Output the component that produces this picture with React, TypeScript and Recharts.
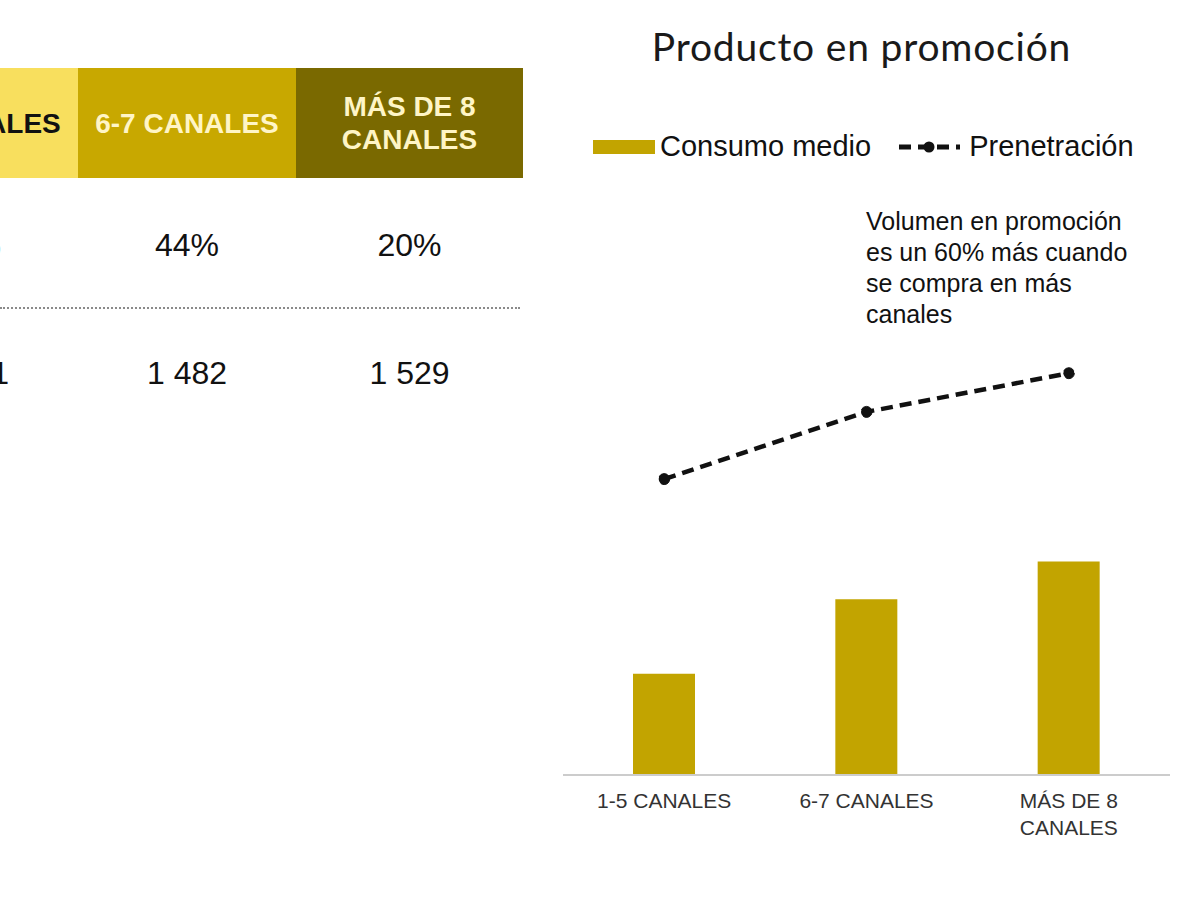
import React from 'react';
import { ComposedChart, Bar, Line, XAxis, YAxis, Legend } from 'recharts';

const categories = ['1-5 CANALES', '6-7 CANALES', 'MÁS DE 8 CANALES'];
const consumoMedio = [9.1, 15.8, 19.2];
const penetracion = [66.5, 81.6, 90.3];

const tableHeaders = ['1-5 CANALES', '6-7 CANALES', 'MÁS DE 8 CANALES'];
const shareRow = ['36%', '44%', '20%'];
const volumeRow = ['1 291', '1 482', '1 529'];

const annotationLines = [
  'Volumen en promoción',
  'es un 60% más cuando',
  'se compra en más',
  'canales',
];

const BAR_COLOR = '#c2a400';
const headerColors = ['#f8df5e', '#c8a800', '#7a6900'];
const headerText = ['#111111', '#fff5c6', '#fff5c6'];

const data = categories.map((name, i) => ({
  name,
  consumo: consumoMedio[i],
  penetracion: penetracion[i],
}));

// table columns (first one is cut off by the left edge of the picture)
const cols = [
  { left: -140, width: 218 },
  { left: 78, width: 218 },
  { left: 296, width: 227 },
];

const CategoryTick = (props: any) => {
  const { x, y, payload } = props;
  const words = String(payload.value);
  const lines = words.startsWith('MÁS') ? ['MÁS DE 8', 'CANALES'] : [words];
  return (
    <text x={x} y={y} textAnchor="middle" fill="#333" fontSize={21} fontFamily="Arial, 'Liberation Sans', sans-serif">
      {lines.map((l, i) => (
        <tspan key={i} x={x} dy={i === 0 ? 25 : 27}>
          {l}
        </tspan>
      ))}
    </text>
  );
};

const LegendContent = () => (
  <div
    style={{
      display: 'flex',
      alignItems: 'center',
      fontFamily: "Arial, 'Liberation Sans', sans-serif",
      fontSize: 29,
      color: '#111',
      whiteSpace: 'nowrap',
    }}
  >
    <svg width={64} height={16} style={{ marginRight: 3 }}>
      <rect x={0} y={1} width={62} height={14} fill={BAR_COLOR} />
    </svg>
    <span>Consumo medio</span>
    <svg width={64} height={16} style={{ marginLeft: 27, marginRight: 7 }}>
      <line x1={1} y1={8} x2={62} y2={8} stroke="#111" strokeWidth={5} strokeDasharray="12 7" />
      <circle cx={31} cy={8} r={5.5} fill="#111" />
    </svg>
    <span>Prenetración</span>
  </div>
);

export default function App() {
  return (
    <div
      style={{
        position: 'absolute',
        left: 0,
        top: 0,
        width: 1200,
        height: 900,
        overflow: 'hidden',
        background: '#fff',
        fontFamily: "Arial, 'Liberation Sans', sans-serif",
      }}
    >
      {/* table */}
      {cols.map((c, i) => (
        <div
          key={'h' + i}
          style={{
            position: 'absolute',
            left: c.left,
            top: 68,
            width: c.width,
            height: 110,
            background: headerColors[i],
            color: headerText[i],
            fontWeight: 'bold',
            fontSize: 28,
            lineHeight: '33px',
            display: 'flex',
            alignItems: 'center',
            justifyContent: 'center',
            textAlign: 'center',
          }}
        >
          {i === 2 ? (
            <span>
              MÁS DE 8
              <br />
              CANALES
            </span>
          ) : (
            tableHeaders[i]
          )}
        </div>
      ))}
      {cols.map((c, i) => (
        <div
          key={'s' + i}
          style={{ position: 'absolute', left: c.left, top: 227, width: c.width, textAlign: 'center', fontSize: 32, color: '#111' }}
        >
          {shareRow[i]}
        </div>
      ))}
      <div style={{ position: 'absolute', left: 0, top: 307, width: 520, borderTop: '2px dotted #8a8a8a' }} />
      {cols.map((c, i) => (
        <div
          key={'v' + i}
          style={{ position: 'absolute', left: c.left, top: 355, width: c.width, textAlign: 'center', fontSize: 32, color: '#111' }}
        >
          {volumeRow[i]}
        </div>
      ))}

      {/* chart title */}
      <div
        style={{
          position: 'absolute',
          left: 558,
          top: 25,
          width: 607,
          textAlign: 'center',
          fontFamily: 'Lato, sans-serif',
          fontWeight: 400,
          fontSize: 39,
          letterSpacing: 0.8,
          lineHeight: '42px',
          color: '#1a1a1a',
        }}
      >
        Producto en promoción
      </div>

      {/* annotation */}
      <div style={{ position: 'absolute', left: 866, top: 206, fontSize: 25, lineHeight: '31px', color: '#111' }}>
        {annotationLines.map((l) => (
          <div key={l}>{l}</div>
        ))}
      </div>

      <div style={{ position: 'absolute', left: 563, top: 120 }}>
        <ComposedChart width={607} height={715} data={data} margin={{ top: 210, right: 0, bottom: 0, left: 0 }}>
          <XAxis
            dataKey="name"
            height={60}
            tickLine={false}
            axisLine={{ stroke: '#cccccc', strokeWidth: 2 }}
            tick={<CategoryTick />}
            interval={0}
          />
          <YAxis yAxisId="left" hide domain={[0, 40]} />
          <YAxis yAxisId="right" hide domain={[0, 100]} orientation="right" />
          <Legend
            verticalAlign="middle"
            align="center"
            layout="horizontal"
            content={<LegendContent />}
            wrapperStyle={{ top: 10, left: 30, width: 'auto' }}
          />
          <Bar yAxisId="left" dataKey="consumo" fill={BAR_COLOR} barSize={62} isAnimationActive={false} />
          <Line
            yAxisId="right"
            dataKey="penetracion"
            type="linear"
            stroke="#111"
            strokeWidth={4.5}
            strokeDasharray="12 7"
            dot={{ r: 5.5, fill: '#111', stroke: '#111', strokeWidth: 1 }}
            isAnimationActive={false}
          />
        </ComposedChart>
      </div>
    </div>
  );
}
